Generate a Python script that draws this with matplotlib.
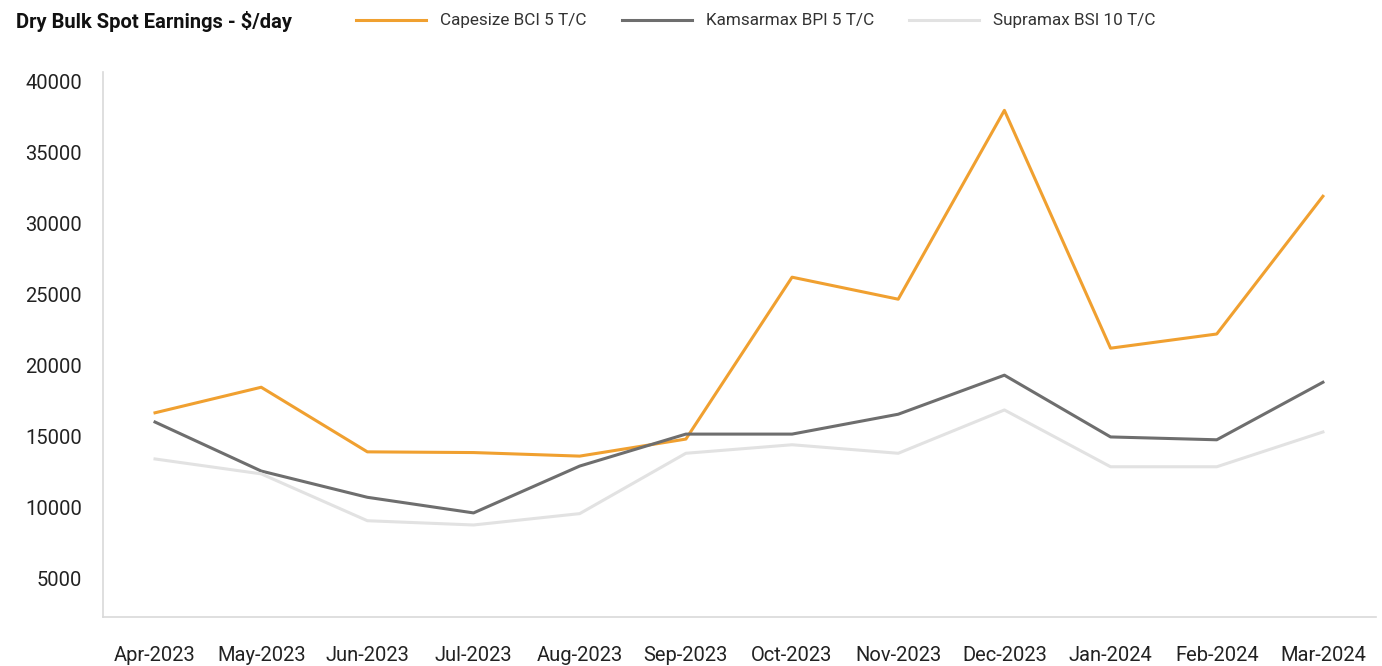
import matplotlib
matplotlib.use("Agg")
import matplotlib.pyplot as plt

plt.rcParams['font.family'] = ['Roboto', 'DejaVu Sans']

months = ["Apr-2023", "May-2023", "Jun-2023", "Jul-2023", "Aug-2023", "Sep-2023",
          "Oct-2023", "Nov-2023", "Dec-2023", "Jan-2024", "Feb-2024", "Mar-2024"]

capesize = [16700, 18500, 13950, 13900, 13650, 14850, 26250, 24700, 38000, 21250, 22250, 31950]
kamsarmax = [16050, 12600, 10750, 9650, 12950, 15200, 15200, 16600, 19350, 15000, 14800, 18850]
supramax = [13450, 12400, 9100, 8800, 9600, 13850, 14450, 13850, 16900, 12900, 12900, 15350]

yticks = [5000, 10000, 15000, 20000, 25000, 30000, 35000, 40000]

fig = plt.figure(figsize=(13.82, 6.66), dpi=100)
ax = fig.add_axes([103/1382, 49/666, 1273/1382, 545/666])

x = range(len(months))
ax.plot(x, capesize, color='#F0A030', lw=2.2, label='Capesize BCI 5 T/C')
ax.plot(x, kamsarmax, color='#6E6E6E', lw=2.2, label='Kamsarmax BPI 5 T/C')
ax.plot(x, supramax, color='#E2E2E2', lw=2.2, label='Supramax BSI 10 T/C')

ax.set_xlim(-0.49, 11.5)
ax.set_ylim(2320, 40700)
ax.set_xticks(list(x))
ax.set_xticklabels(months)
ax.set_yticks(yticks)
ax.set_yticklabels([str(v) for v in yticks])
ax.tick_params(axis='both', length=0, labelsize=14.5, colors='#222222')
ax.tick_params(axis='y', pad=15)
ax.tick_params(axis='x', pad=21)

for s in ['top', 'right']:
    ax.spines[s].set_visible(False)
for s in ['left', 'bottom']:
    ax.spines[s].set_color('#D9D9D9')
    ax.spines[s].set_linewidth(1.2)

fig.text(16/1382, 1 - 21/666, "Dry Bulk Spot Earnings - $/day", fontsize=14.5,
         fontweight='bold', va='center', ha='left', color='#111111')

fig.legend(loc='center left', bbox_to_anchor=(341/1382, 1 - 21/666), ncol=3,
           frameon=False, fontsize=12.3, handlelength=4.1, handletextpad=0.82,
           columnspacing=2.05, labelcolor='#333333')

fig.savefig('out.png', dpi=100)
